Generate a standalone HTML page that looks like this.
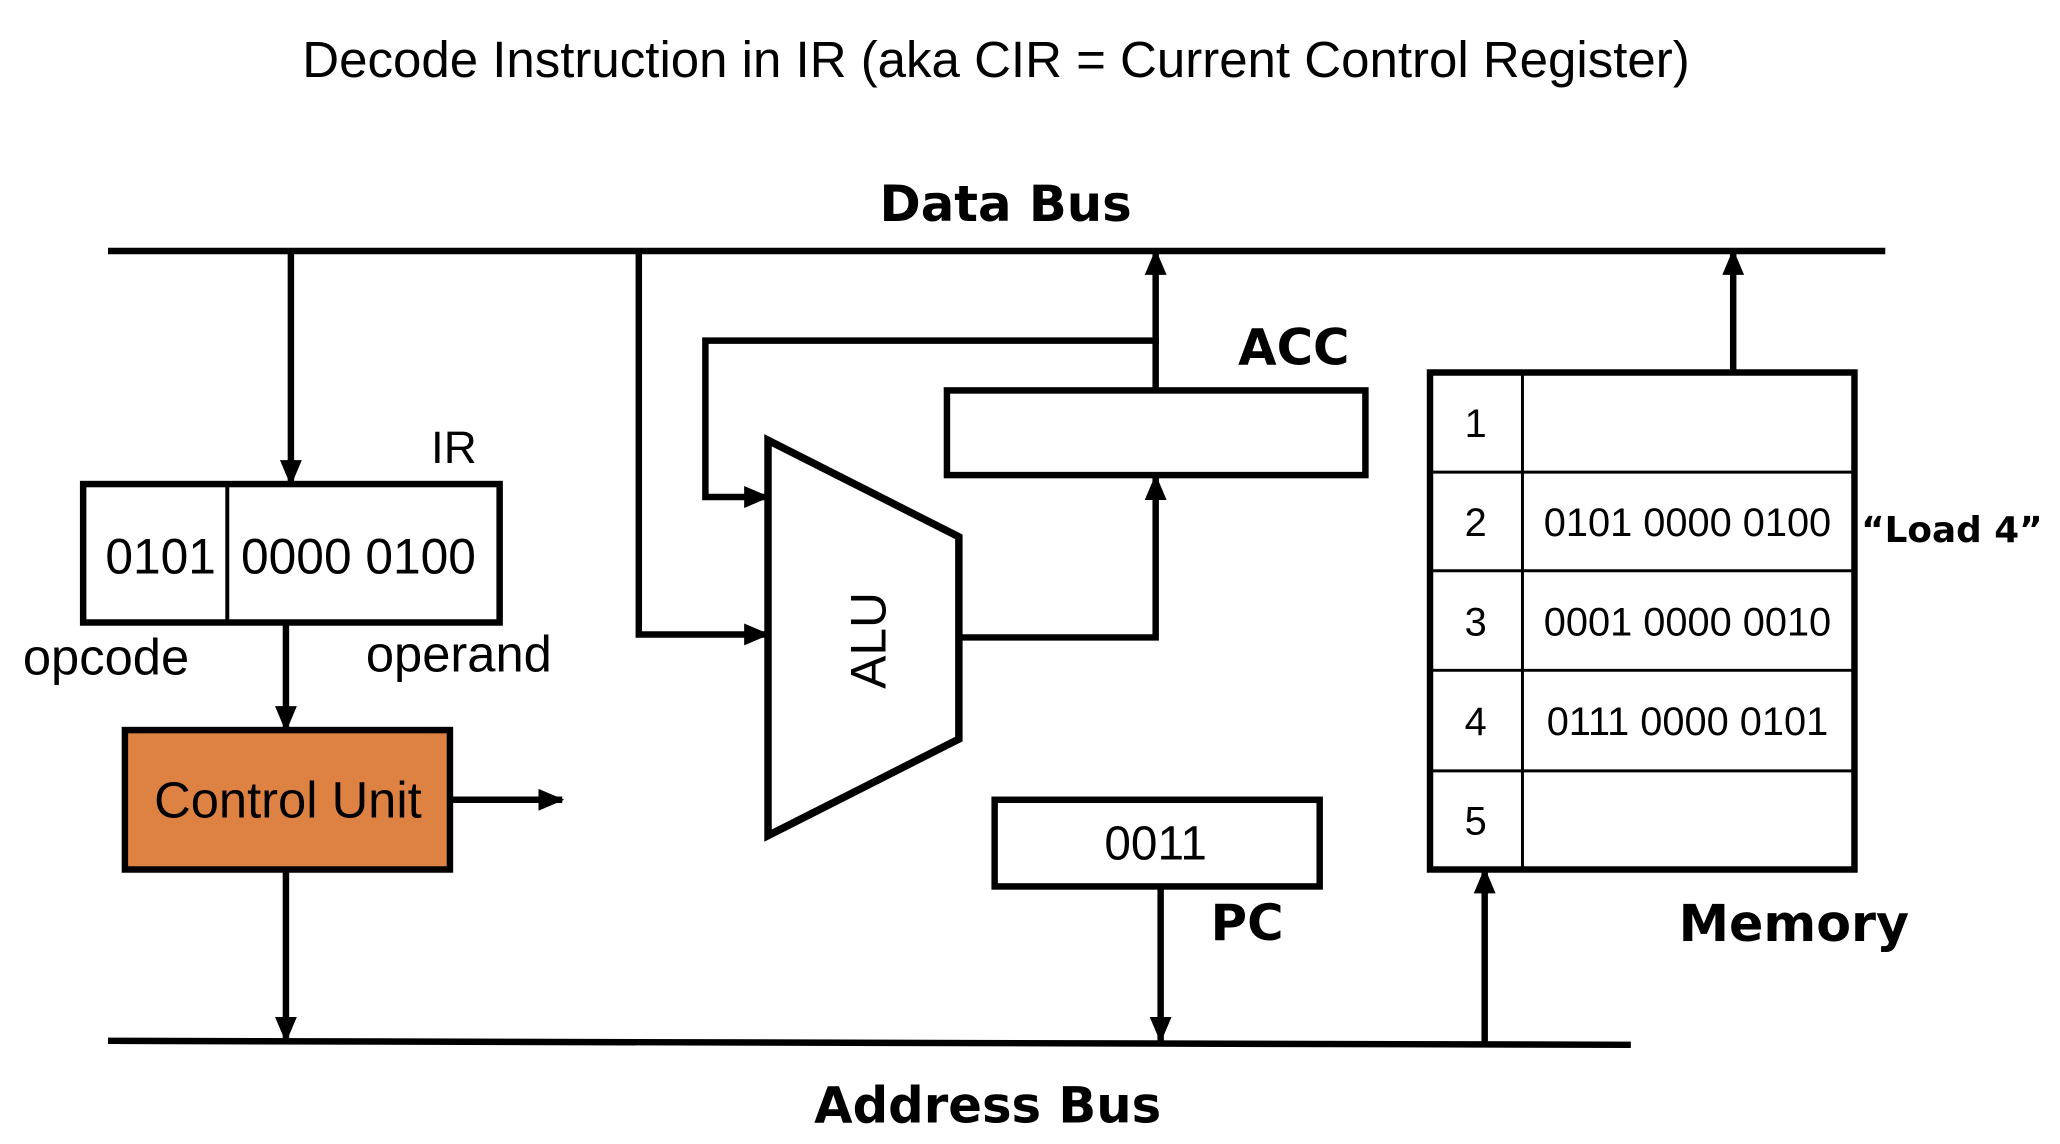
<!DOCTYPE html>
<html><head><meta charset="utf-8"><style>
html,body{margin:0;padding:0;background:#fff;}
svg{display:block;}
text{font-family:"Liberation Sans",sans-serif;fill:#000;}
.b{font-family:"DejaVu Sans","Liberation Sans",sans-serif;font-weight:bold;}
</style></head><body>
<svg width="2060" height="1144" viewBox="0 0 2060 1144" xmlns="http://www.w3.org/2000/svg">
<defs>
<marker id="h" markerWidth="26" markerHeight="22" refX="24" refY="11" orient="auto" markerUnits="userSpaceOnUse">
<path d="M0,0 L26,11 L0,22 z" fill="#000"/>
</marker>
</defs>
<text x="996" y="77" font-size="51" text-anchor="middle">Decode Instruction in IR (aka CIR = Current Control Register)</text>
<g transform="translate(108,0) scale(0.994,0.996) translate(-108,0)">
<text x="1011" y="222" font-size="50" text-anchor="middle" class="b">Data Bus</text>
<text x="993" y="1127" font-size="50" text-anchor="middle" class="b">Address Bus</text>
<g stroke="#000" stroke-width="6.5" fill="none">
<line x1="108" y1="252" x2="1896" y2="252"/>
<line x1="108" y1="1045" x2="1640" y2="1049"/>
<line x1="292" y1="252" x2="292" y2="486" marker-end="url(#h)"/>
<line x1="287" y1="625" x2="287" y2="733" marker-end="url(#h)"/>
<line x1="287" y1="873" x2="287" y2="1045" marker-end="url(#h)"/>
<line x1="452" y1="803" x2="565" y2="803" marker-end="url(#h)"/>
<polyline points="642,252 642,637 772,637" marker-end="url(#h)"/>
<polyline points="1162,392 1162,342 709,342 709,499 772,499" marker-end="url(#h)"/>
<line x1="1162" y1="345" x2="1162" y2="252" marker-end="url(#h)"/>
<polyline points="964,640 1162,640 1162,478" marker-end="url(#h)"/>
<line x1="1167" y1="890" x2="1167" y2="1045" marker-end="url(#h)"/>
<line x1="1743" y1="374" x2="1743" y2="252" marker-end="url(#h)"/>
<line x1="1493" y1="1048" x2="1493" y2="873" marker-end="url(#h)"/>
<rect x="83" y="486" width="419" height="139"/>
<line x1="228" y1="486" x2="228" y2="625" stroke-width="4"/>
<rect x="125" y="733" width="327" height="140" fill="#DE8244"/>
<polygon points="772,442 964,539 964,742 772,839" stroke-width="7.5"/>
<rect x="952" y="392" width="421" height="85"/>
<rect x="1000" y="803" width="327" height="87"/>
<rect x="1438" y="374" width="427" height="499"/>
</g>
<g stroke="#000" stroke-width="3">
<line x1="1531" y1="374" x2="1531" y2="873"/>
<line x1="1438" y1="474" x2="1865" y2="474"/>
<line x1="1438" y1="573" x2="1865" y2="573"/>
<line x1="1438" y1="673" x2="1865" y2="673"/>
<line x1="1438" y1="774" x2="1865" y2="774"/>
</g>
<text x="161" y="576" font-size="50" text-anchor="middle">0101</text>
<text x="360" y="576" font-size="50" text-anchor="middle">0000 0100</text>
<text x="456" y="465" font-size="46" text-anchor="middle">IR</text>
<text x="106" y="677" font-size="51" text-anchor="middle">opcode</text>
<text x="461" y="674" font-size="51" text-anchor="middle">operand</text>
<text x="289" y="821" font-size="51" text-anchor="middle">Control Unit</text>
<text transform="translate(890,643) rotate(-90)" font-size="50" text-anchor="middle">ALU</text>
<text x="1301" y="366" font-size="50" text-anchor="middle" class="b">ACC</text>
<text x="1162" y="863" font-size="48" text-anchor="middle">0011</text>
<text x="1254" y="944" font-size="50" text-anchor="middle" class="b">PC</text>
<text x="1804" y="945" font-size="51" text-anchor="middle" class="b">Memory</text>
<text x="1963" y="544" font-size="36" text-anchor="middle" class="b">“Load 4”</text>
<g font-size="40" text-anchor="middle">
<text x="1484" y="439">1</text>
<text x="1484" y="538">2</text>
<text x="1484" y="638">3</text>
<text x="1484" y="738">4</text>
<text x="1484" y="838">5</text>
<text x="1697" y="538">0101 0000 0100</text>
<text x="1697" y="638">0001 0000 0010</text>
<text x="1697" y="738">0111 0000 0101</text>
</g>
</g>
</svg>
</body></html>
